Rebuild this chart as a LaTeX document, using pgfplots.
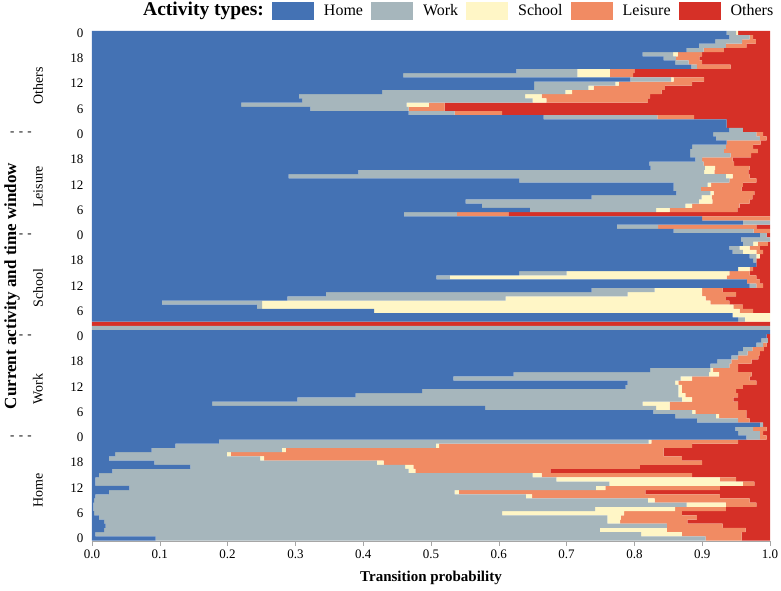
\documentclass[border=0pt]{standalone}
\usepackage{fontspec}
\setmainfont{Liberation Serif}
\usepackage{pgfplots}
\usepackage{pgfplotstable}
\pgfplotsset{compat=1.18}

\definecolor{cHome}{RGB}{68,114,180}
\definecolor{cWork}{RGB}{166,182,188}
\definecolor{cSchool}{RGB}{255,246,198}
\definecolor{cLeisure}{RGB}{241,139,99}
\definecolor{cOthers}{RGB}{214,48,39}

\pgfplotstableread{
pos H W S L O
0 0.094 0.811 0 0.053 0.042
1 0.005 0.805 0.060 0.088 0.042
2 0.018 0.731 0.099 0.116 0.036
3 0.020 0.828 0 0.082 0.070
4 0.018 0.742 0.019 0.099 0.122
5 0.010 0.750 0.020 0.112 0.108
6 0.003 0.602 0.180 0.085 0.130
7 0.002 0.740 0.118 0.075 0.065
8 0.002 0.875 0.058 0.045 0.020
9 0.003 0.817 0.010 0.140 0.030
10 0.005 0.635 0.009 0.277 0.074
11 0.025 0.510 0.006 0.275 0.184
12 0.055 0.688 0.014 0.169 0.074
13 0.005 0.758 0.197 0.017 0.023
14 0.005 0.680 0.241 0.024 0.050
15 0.010 0.640 0.013 0.222 0.115
16 0.030 0.437 0.010 0.199 0.324
17 0.145 0.317 0.012 0.334 0.192
18 0.092 0.328 0.010 0.470 0.100
19 0.025 0.223 0.006 0.616 0.130
20 0.034 0.165 0.006 0.638 0.157
21 0.088 0.192 0.006 0.557 0.157
22 0.123 0.384 0.005 0.373 0.115
23 0.187 0.634 0.004 0.128 0.047
24 0.965 0.020 0 0.010 0.005
25 0.953 0.032 0 0.005 0.010
26 0.949 0.026 0 0.020 0.005
27 0.985 0.005 0 0 0.010
28 0.892 0.061 0 0.017 0.030
29 0.860 0.060 0.005 0.040 0.035
30 0.828 0.057 0.005 0.075 0.035
31 0.580 0.252 0.020 0.101 0.047
32 0.177 0.635 0.040 0.101 0.047
33 0.303 0.567 0.015 0.061 0.054
34 0.389 0.476 0.010 0.078 0.047
35 0.487 0.378 0.005 0.080 0.050
36 0.787 0.078 0.005 0.090 0.040
37 0.790 0.070 0.005 0.115 0.020
38 0.533 0.335 0.017 0.085 0.030
39 0.622 0.288 0.015 0.048 0.027
40 0.823 0.089 0.004 0.037 0.047
41 0.912 0.028 0 0.013 0.047
42 0.922 0.021 0 0.030 0.027
43 0.943 0.010 0 0.030 0.017
44 0.953 0.014 0 0.018 0.015
45 0.960 0.014 0 0.017 0.009
46 0.980 0.010 0 0.005 0.005
47 0.987 0.010 0 0 0.003
48 0.995 0 0 0 0.005
49 1.000 0 0 0 0
50 0 1.000 0 0 0
51 0 0 0 0 1.000
52 0.953 0.010 0.037 0 0
53 0.945 0 0.055 0 0
54 0.416 0 0.539 0.020 0.025
55 0.243 0.008 0.695 0.014 0.040
56 0.103 0.148 0.661 0.028 0.060
57 0.288 0.322 0.295 0.030 0.065
58 0.345 0.445 0.110 0.050 0.050
59 0.737 0.093 0.070 0.030 0.070
60 0.970 0.010 0 0.010 0.010
61 0.966 0 0 0.019 0.015
62 0.508 0.020 0.408 0.044 0.020
63 0.630 0.070 0.240 0.030 0.030
64 0.953 0 0.017 0.005 0.025
65 0.980 0 0 0 0.020
66 0.975 0.005 0 0 0.020
67 0.970 0.010 0.005 0 0.015
68 0.945 0.015 0.020 0.010 0.010
69 0.940 0.015 0.015 0.015 0.015
70 0.960 0.015 0.007 0.015 0.003
71 0.957 0.043 0 0 0
72 0.985 0.010 0 0 0.005
73 0.858 0.118 0 0.024 0
74 0.774 0.061 0 0.145 0.020
75 0.960 0.040 0 0 0
76 0.900 0 0 0.100 0
77 0.460 0.078 0 0.076 0.386
78 0.646 0.186 0.020 0.100 0.048
79 0.575 0.300 0.010 0.070 0.045
80 0.551 0.344 0.020 0.055 0.030
81 0.737 0.162 0.015 0.060 0.026
82 0.862 0.050 0.005 0.060 0.023
83 0.858 0.040 0 0.060 0.042
84 0.858 0.050 0.005 0.047 0.040
85 0.630 0.310 0 0.040 0.020
86 0.290 0.645 0.010 0.025 0.030
87 0.393 0.510 0.015 0.050 0.032
88 0.824 0.080 0.015 0.051 0.030
89 0.822 0.080 0 0.045 0.053
90 0.890 0.010 0 0.045 0.055
91 0.882 0.060 0 0.030 0.028
92 0.882 0.050 0 0.050 0.018
93 0.885 0.050 0 0.040 0.025
94 0.936 0 0 0.050 0.014
95 0.920 0.065 0 0.010 0.005
96 0.916 0.064 0 0.010 0.010
97 0.940 0.020 0 0 0.040
98 0.936 0 0 0 0.064
99 0.936 0 0 0 0.064
100 0.666 0.168 0 0.054 0.112
101 0.467 0.068 0 0.070 0.395
102 0.322 0.145 0 0.053 0.480
103 0.220 0.244 0.033 0.023 0.480
104 0.310 0.340 0.020 0.150 0.180
105 0.305 0.334 0.024 0.160 0.177
106 0.428 0.270 0.010 0.132 0.160
107 0.652 0.080 0.008 0.105 0.155
108 0.652 0.120 0.005 0.108 0.115
109 0.794 0.060 0.004 0.045 0.097
110 0.459 0.257 0.048 0.034 0.202
111 0.626 0.090 0.048 0.036 0.200
112 0.884 0.008 0 0.050 0.058
113 0.860 0.020 0 0.020 0.100
114 0.843 0.018 0 0.035 0.104
115 0.812 0.045 0.007 0.036 0.100
116 0.877 0.025 0 0.030 0.068
117 0.895 0.040 0 0.030 0.035
118 0.919 0.040 0 0.020 0.021
119 0.940 0.030 0 0.005 0.025
120 0.936 0.014 0.003 0 0.047
}\datatable

\begin{document}
\begin{tikzpicture}
\useasboundingbox (0pt,0pt) rectangle (781pt,591pt);
\begin{axis}[
  at={(92pt,50pt)}, anchor=south west,
  width=678pt, height=510pt, scale only axis,
  xbar stacked, bar width=1,
  xmin=0, xmax=1, ymin=-0.6, ymax=120.5,
  enlargelimits=false,
  axis x line*=bottom, axis y line*=left,
  y axis line style={draw=none},
  x axis line style={draw=gray!70, line width=0.6pt},
  xtick={0,0.1,0.2,0.3,0.4,0.5,0.6,0.7,0.8,0.9,1},
  xticklabel={\pgfmathprintnumber[fixed,fixed zerofill,precision=1,assume math mode=true]{\tick}},
  xtick style={draw=gray!70, line width=0.6pt},
  tick align=outside,
  major tick length=5pt,
  ytick={0,6,...,120},
  yticklabels={0,6,12,18,0,6,12,18,0,6,12,18,0,6,12,18,0,6,12,18,0},
  ytick style={draw=none},
  tick label style={font=\fontsize{13}{13}\selectfont},
  xlabel={\textbf{Transition probability}},
  xlabel style={font=\fontsize{15}{15}\selectfont, at={(axis description cs:0.5,0)}, anchor=center, yshift=-37pt},
  ylabel={\textbf{Current activity and time window}},
  ylabel style={font=\fontsize{17}{17}\selectfont, at={(axis description cs:-0.118,0.5)}, anchor=center},
  legend style={at={(axis description cs:0,1)}, anchor=south west, xshift=41pt, yshift=11pt,
    draw=none, fill=none, inner sep=0pt, legend columns=-1,
    font=\fontsize{16}{16}\selectfont,
    nodes={inner sep=0pt, anchor=base west},
    /tikz/every odd column/.append style={column sep=10pt},
    /tikz/every even column/.append style={column sep=8pt}},
  legend image code/.code={\fill[#1] (0pt,-4pt) rectangle (42pt,14pt);},
]
\addlegendimage{empty legend}
\addlegendentry{\fontsize{19.5}{19.5}\selectfont\textbf{Activity types:}}
\addplot[fill=cHome, draw=none] table[x=H, y=pos] {\datatable};
\addlegendentry{Home}
\addplot[fill=cWork, draw=none] table[x=W, y=pos] {\datatable};
\addlegendentry{Work}
\addplot[fill=cSchool, draw=none] table[x=S, y=pos] {\datatable};
\addlegendentry{School}
\addplot[fill=cLeisure, draw=none] table[x=L, y=pos] {\datatable};
\addlegendentry{Leisure}
\addplot[fill=cOthers, draw=none] table[x=O, y=pos] {\datatable};
\addlegendentry{Others}
\end{axis}
\begin{axis}[
  at={(92pt,50pt)}, anchor=south west,
  width=678pt, height=510pt, scale only axis,
  xmin=0, xmax=1, ymin=-0.6, ymax=120.5,
  hide axis, clip=false]
\foreach \g/\c in {Home/11.5, Work/35.5, School/59.5, Leisure/83.5, Others/107.5}{
  \edef\tmp{\noexpand\node[rotate=90, font=\noexpand\fontsize{14}{14}\noexpand\selectfont] at ([xshift=-54pt]axis cs:0,\c) {\g};}
  \tmp
}
\foreach \p in {24,48,72,96}{
  \edef\tmp{\noexpand\node[font=\noexpand\fontsize{13}{13}\noexpand\selectfont] at ([xshift=-71pt]axis cs:0,\p) {-\,\,-\,\,-};}
  \tmp
}
\end{axis}
\end{tikzpicture}
\end{document}
